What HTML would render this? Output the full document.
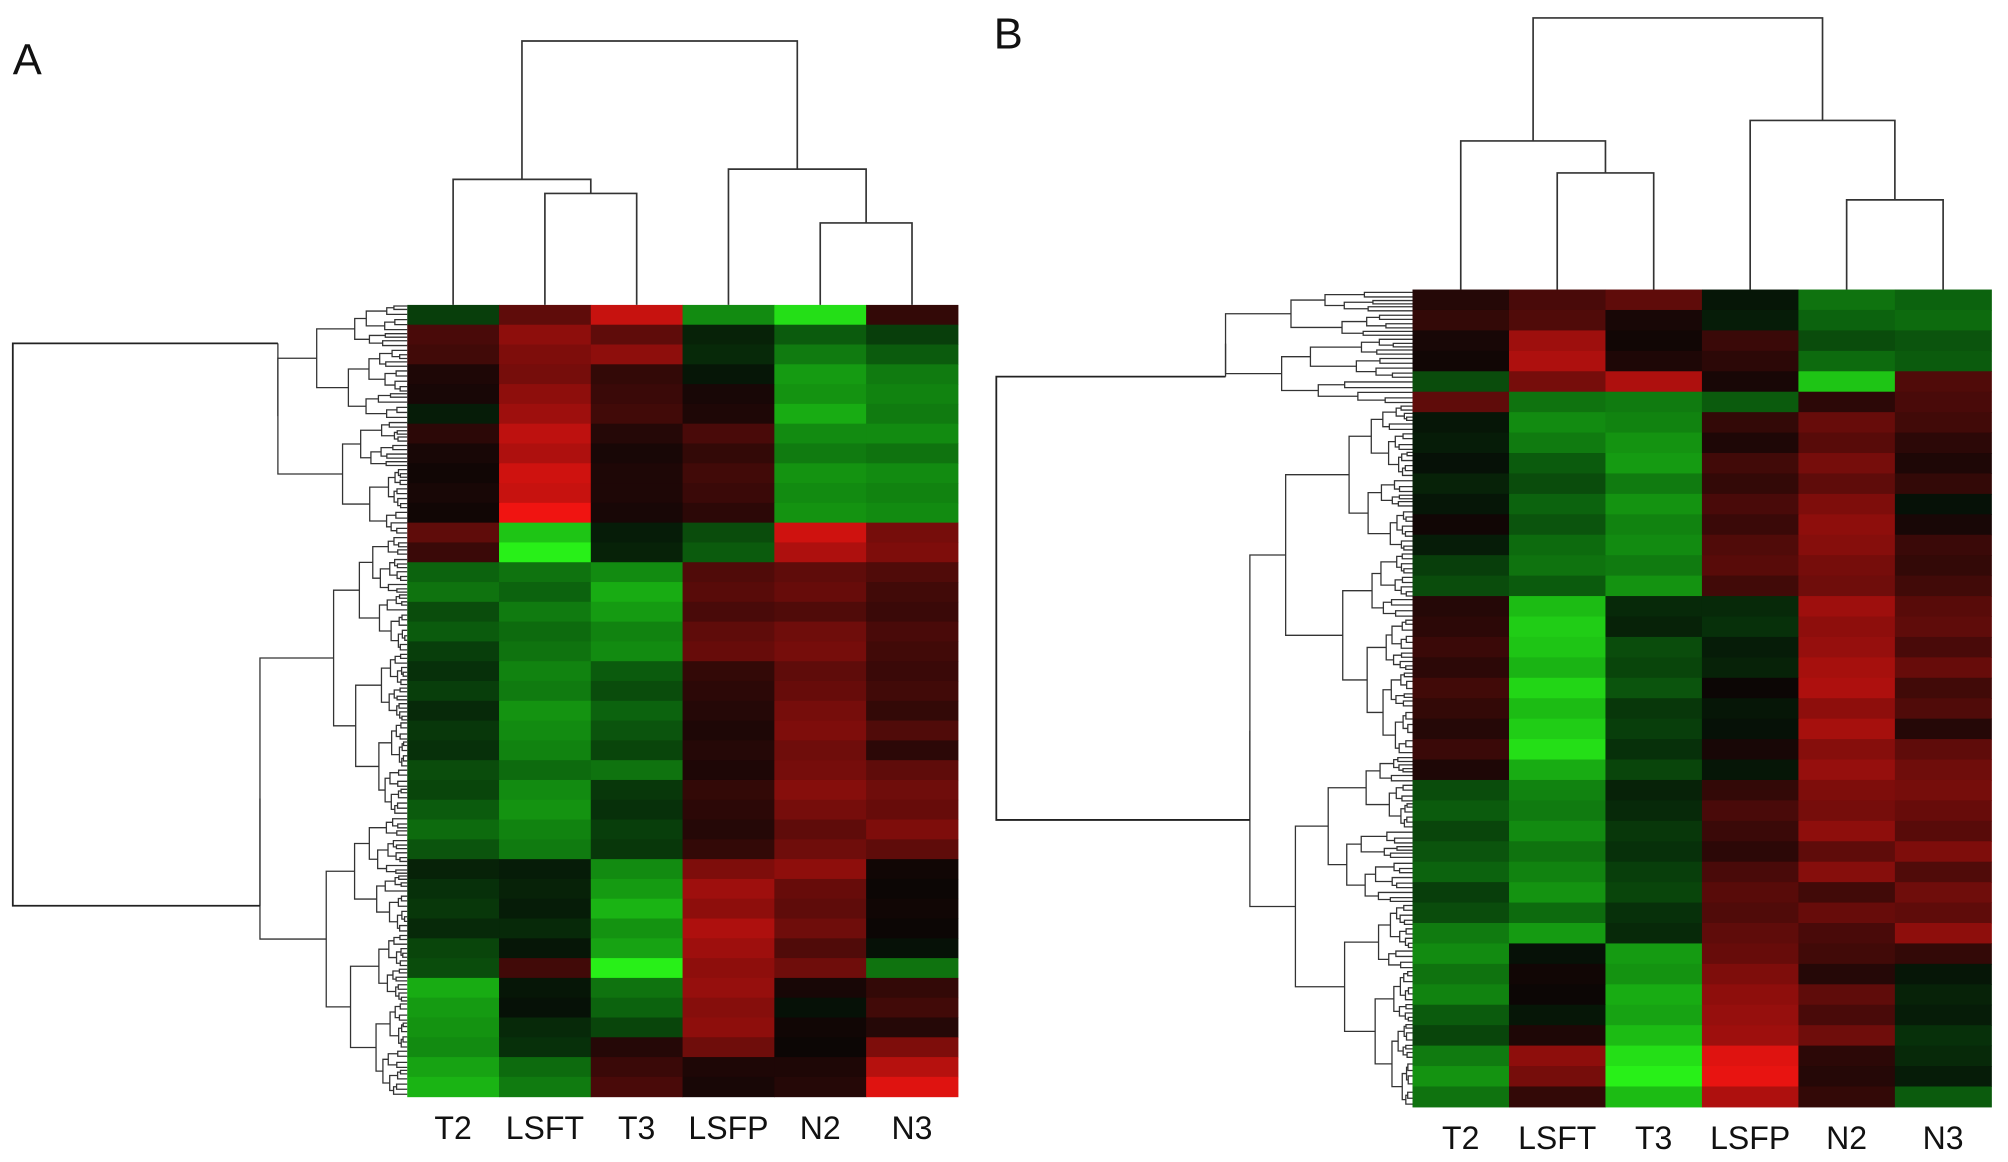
<!DOCTYPE html>
<html><head><meta charset="utf-8">
<style>
html,body{margin:0;padding:0;background:#fff;}
svg{display:block;}
text{font-family:"Liberation Sans",Arial,sans-serif;fill:#111;}
</style></head>
<body>
<svg id="fig" width="2008" height="1162" viewBox="0 0 1568 907" preserveAspectRatio="none">
<rect width="1568" height="907" fill="#fff"/>
<text x="10" y="58" font-size="34">A</text>
<text x="776" y="38" font-size="34">B</text>
</svg>
<script>
const categoriesA = ["T2","LSFT","T3","LSFP","N2","N3"];
const categoriesB = ["T2","LSFT","T3","LSFP","N2","N3"];
const valuesA = [
[-0.8,1.2,2.5,-1.8,-2.8,0.6],[0.9,1.8,1.2,-0.4,-1.2,-0.8],[0.8,1.6,1.8,-0.5,-1.6,-1.2],[0.3,1.5,0.6,-0.2,-2.0,-1.6],
[0.2,1.8,0.7,0.2,-1.9,-1.7],[-0.3,2.0,0.8,0.3,-2.2,-1.6],[0.5,2.4,0.4,0.9,-1.8,-1.8],[0.2,2.2,0.2,0.6,-1.6,-1.5],
[0.1,2.6,0.3,0.8,-1.9,-1.8],[0.2,2.5,0.3,0.7,-1.8,-1.7],[0.1,3.0,0.2,0.5,-1.9,-1.8],[1.2,-2.5,-0.3,-1.0,2.6,1.5],
[0.7,-3.0,-0.4,-1.2,2.2,1.6],[-1.3,-1.5,-1.8,1.0,1.2,1.0],[-1.5,-1.3,-2.2,1.1,1.3,0.8],[-1.0,-1.6,-2.0,0.9,1.0,0.7],
[-1.2,-1.4,-1.7,1.2,1.4,0.9],[-0.8,-1.5,-1.8,1.3,1.5,0.8],[-0.6,-1.7,-1.2,0.6,1.2,0.7],[-0.8,-1.6,-1.0,0.5,1.3,0.8],
[-0.5,-1.9,-1.3,0.4,1.5,0.6],[-0.7,-1.8,-1.1,0.3,1.6,1.0],[-0.6,-1.7,-0.9,0.4,1.4,0.5],[-1.0,-1.4,-1.5,0.3,1.5,1.2],
[-0.9,-1.8,-0.7,0.6,1.7,1.4],[-1.2,-1.9,-0.6,0.5,1.5,1.3],[-1.4,-1.7,-0.8,0.4,1.2,1.6],[-1.1,-1.6,-0.7,0.6,1.4,1.2],
[-0.4,-0.3,-1.8,1.6,1.8,0.1],[-0.6,-0.4,-2.0,2.0,1.3,0.0],[-0.7,-0.3,-2.3,1.8,1.2,0.1],[-0.5,-0.5,-1.9,2.2,1.4,0.0],
[-0.9,-0.2,-2.1,2.0,1.0,-0.1],[-1.0,0.8,-3.0,1.8,1.4,-1.5],[-2.2,-0.2,-1.5,1.9,0.2,0.6],[-2.0,-0.1,-1.3,1.7,-0.1,0.8],
[-1.9,-0.5,-0.9,1.8,0.1,0.4],[-1.8,-0.6,0.4,1.4,0.0,1.6],[-2.1,-1.4,0.7,0.3,0.3,2.3],[-2.3,-1.6,0.9,0.2,0.4,2.8]
];
const valuesB = [
[0.4,0.9,1.2,-0.2,-1.5,-1.3],[0.6,1.0,0.2,-0.3,-1.3,-1.4],[0.2,2.0,0.1,0.7,-1.0,-1.1],[0.1,2.2,0.3,0.5,-1.4,-1.2],
[-1.0,1.5,2.2,0.2,-2.5,1.0],[1.2,-1.5,-1.6,-1.2,0.5,0.9],[-0.2,-1.8,-1.7,0.6,1.3,0.8],[-0.3,-1.6,-1.9,0.3,1.1,0.5],
[-0.1,-1.2,-2.0,0.8,1.5,0.3],[-0.4,-1.0,-1.6,0.6,1.2,0.6],[-0.2,-1.3,-1.9,0.9,1.6,-0.1],[0.1,-1.1,-1.7,0.7,1.8,0.2],
[-0.3,-1.4,-1.8,1.0,1.7,0.7],[-0.8,-1.5,-1.6,1.1,1.5,0.6],[-1.0,-1.2,-1.9,0.8,1.4,0.8],[0.4,-2.4,-0.5,-0.5,2.0,1.1],
[0.5,-2.6,-0.4,-0.6,1.8,1.2],[0.7,-2.5,-1.0,-0.3,1.9,0.9],[0.5,-2.3,-0.9,-0.4,2.1,1.3],[0.8,-2.7,-1.1,0.0,2.2,0.8],
[0.6,-2.4,-0.7,-0.2,1.8,1.0],[0.4,-2.6,-0.8,-0.1,2.1,0.4],[0.7,-2.8,-0.6,0.2,1.7,1.2],[0.3,-2.2,-0.9,-0.2,1.9,1.4],
[-1.0,-1.7,-0.4,0.6,1.6,1.5],[-1.2,-1.6,-0.5,0.9,1.5,1.3],[-0.9,-1.8,-0.7,0.7,1.8,1.1],[-1.1,-1.5,-0.6,0.5,1.2,1.6],
[-1.3,-1.7,-0.8,0.9,1.7,1.0],[-0.8,-1.9,-0.9,1.1,0.8,1.4],[-1.0,-1.4,-0.6,1.0,1.3,1.2],[-1.6,-2.0,-0.5,1.2,0.9,1.8],
[-1.8,-0.1,-2.0,1.3,0.8,0.6],[-1.5,0.1,-1.9,1.6,0.4,-0.2],[-1.7,0.0,-2.2,1.8,1.2,-0.4],[-1.2,-0.2,-2.1,1.9,0.9,-0.3],
[-0.9,0.3,-2.4,2.0,1.4,-0.6],[-1.6,1.8,-2.8,2.8,0.5,-0.5],[-1.9,1.5,-3.0,2.9,0.4,-0.3],[-1.5,0.6,-2.4,2.2,0.6,-1.2]
];
// column cluster heights (display units from top) : [pair(LSFT,T3), T2-join, pair(N2,N3), LSFP-join, root]
const colHeightsA = [151,140,174,132,32];
const colHeightsB = [135,110,156,94,14];

const NS = "http://www.w3.org/2000/svg";
const svg = document.getElementById("fig");
function el(tag, attrs, parent){
  const e = document.createElementNS(NS, tag);
  for (const k in attrs) e.setAttribute(k, attrs[k]);
  (parent||svg).appendChild(e);
  return e;
}
function color(v){
  const t = Math.max(-1, Math.min(1, v/3));
  if (t >= 0) return `rgb(${Math.round(12+228*Math.pow(t,1.1))},${Math.round(6+14*t)},${Math.round(5+12*t)})`;
  const a = -t;
  return `rgb(${Math.round(6+34*a*a)},${Math.round(12+228*Math.pow(a,1.15))},${Math.round(6+18*a)})`;
}
const fr = [0.5,0.38,0.62,0.45,0.56,0.33,0.68,0.5,0.42];
const gr = [0.3,0.42,0.22,0.5,0.35,0.28,0.45];
let kc = 0;
function dendro(g, y0, y1, x, xLeaf, depth){
  if (y1 - y0 < 5 || depth > 8) return (y0 + y1) / 2;
  const k = kc++;
  const ym = y0 + (y1 - y0) * fr[k % fr.length];
  const cx1 = x + (xLeaf - x) * gr[k % gr.length];
  const cx2 = x + (xLeaf - x) * gr[(k + 3) % gr.length];
  const a = dendro(g, y0, ym, cx1, xLeaf, depth + 1);
  const b = dendro(g, ym, y1, cx2, xLeaf, depth + 1);
  const ax = (ym - y0 < 5 || depth + 1 > 8) ? xLeaf : cx1;
  const bx = (y1 - ym < 5 || depth + 1 > 8) ? xLeaf : cx2;
  const l1 = el("polyline", {points:`${ax},${a} ${x},${a} ${x},${b} ${bx},${b}`, fill:"none", stroke:"#333", "stroke-width":1}, g);
  
  
  return (a + b) / 2;
}
function panel(opt){
  const g = el("g", {});
  
  
  const vals = opt.values, nR = vals.length, nC = opt.cats.length;
  const cw = (opt.x1 - opt.x0) / nC, rh = (opt.y1 - opt.y0) / nR;
  const xs = c => opt.x0 + c * cw;
  const ys = r => opt.y0 + r * rh;
  const hm = el("g", {}, g);
  
  
  for (let r = 0; r < nR; r++) for (let c = 0; c < nC; c++) {
    const cell = el("rect", {x:xs(c), y:ys(r), width:cw+0.4, height:rh+0.4, fill:color(vals[r][c])}, hm);
    
    
  }
  opt.cats.forEach((name, c) => {
    const t = el("text", {x:xs(c)+cw/2, y:opt.y1+33, "font-size":25, "text-anchor":"middle"}, g);
    t.textContent = name;
    
    
  });
  const h = opt.heights, cx = c => xs(c) + cw/2, top = opt.y0;
  const cd = el("g", {fill:"none", stroke:"#333", "stroke-width":1.3}, g);
  
  
  const m1 = (cx(1)+cx(2))/2, m2 = (cx(0)+m1)/2, m3 = (cx(4)+cx(5))/2, m4 = (cx(3)+m3)/2;
  const paths = [
    `M${cx(1)},${top} V${h[0]} H${cx(2)} V${top}`,
    `M${cx(0)},${top} V${h[1]} H${m1} V${h[0]}`,
    `M${cx(4)},${top} V${h[2]} H${cx(5)} V${top}`,
    `M${cx(3)},${top} V${h[3]} H${m3} V${h[2]}`,
    `M${m2},${h[1]} V${h[4]} H${m4} V${h[3]}`
  ];
  paths.forEach(d => {
    const p = el("path", {d}, cd);
    
    
  });
  const rd = el("g", {}, g);
  
  
  const split = opt.y0 + (opt.y1 - opt.y0) * opt.splitFrac;
  const ya = dendro(rd, opt.y0, split, opt.nodeTop, opt.x0, 1);
  const yb = dendro(rd, split, opt.y1, opt.nodeBot, opt.x0, 1);
  const ext = el("path", {d:`M${opt.nodeTop},${ya} V${opt.rootYTop} M${opt.nodeBot},${yb} V${opt.rootYBot}`, fill:"none", stroke:"#333", "stroke-width":1}, rd);
  
  
  const root = el("polyline", {points:`${opt.nodeTop},${opt.rootYTop} ${opt.rootX},${opt.rootYTop} ${opt.rootX},${opt.rootYBot} ${opt.nodeBot},${opt.rootYBot}`, fill:"none", stroke:"#222", "stroke-width":1.4}, rd);
  
  
}
panel({name:"panel-a", cats:categoriesA, values:valuesA, heights:colHeightsA,
  x0:318, x1:748, y0:238, y1:856, splitFrac:0.29, rootX:10, nodeTop:217, nodeBot:203, rootYTop:268, rootYBot:707});
panel({name:"panel-b", cats:categoriesB, values:valuesB, heights:colHeightsB,
  x0:1103, x1:1555, y0:226, y1:864, splitFrac:0.14, rootX:778, nodeTop:957, nodeBot:976, rootYTop:294, rootYBot:640});
</script>
</body></html>
